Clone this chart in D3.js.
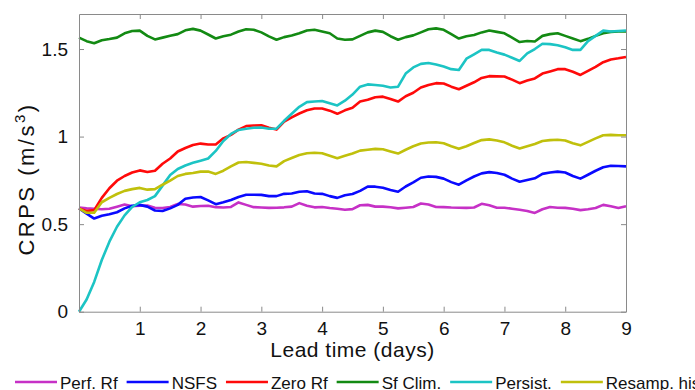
<!DOCTYPE html>
<html>
<head>
<meta charset="utf-8">
<script src="https://cdn.jsdelivr.net/npm/d3@7"></script>
<style>
  body { margin: 0; background: #fff; }
  svg { font-family: "Liberation Sans", Arial, sans-serif; }
</style>
</head>
<body>
<svg id="chart" width="695" height="390"></svg>
<script>
// lead time grid (days), one sample every 3 hours
var leadTime = d3.range(0, 9.0001, 0.125);

var perfRf = [0.595,0.590,0.588,0.585,0.588,0.600,0.612,0.602,
  0.605,0.606,0.594,0.592,0.598,0.615,0.612,0.600,
  0.604,0.605,0.597,0.595,0.598,0.624,0.610,0.597,
  0.595,0.593,0.594,0.596,0.600,0.620,0.605,0.596,
  0.598,0.592,0.588,0.582,0.586,0.608,0.610,0.600,
  0.600,0.596,0.590,0.594,0.598,0.618,0.612,0.598,
  0.597,0.595,0.594,0.593,0.595,0.616,0.608,0.594,
  0.594,0.588,0.582,0.575,0.564,0.585,0.598,0.594,
  0.593,0.588,0.580,0.585,0.592,0.610,0.602,0.592,
  0.602];
var nsfs = [0.590,0.560,0.532,0.548,0.557,0.568,0.590,0.605,
  0.610,0.600,0.578,0.575,0.590,0.610,0.645,0.652,
  0.655,0.636,0.614,0.625,0.638,0.655,0.668,0.668,
  0.667,0.660,0.660,0.673,0.675,0.685,0.688,0.675,
  0.673,0.660,0.650,0.665,0.672,0.690,0.714,0.714,
  0.708,0.695,0.685,0.715,0.738,0.765,0.772,0.770,
  0.760,0.740,0.725,0.750,0.772,0.790,0.797,0.792,
  0.782,0.760,0.742,0.752,0.762,0.787,0.795,0.800,
  0.795,0.775,0.760,0.782,0.805,0.825,0.833,0.832,
  0.830];
var zeroRf = [0.590,0.575,0.580,0.650,0.705,0.748,0.775,0.795,
  0.807,0.798,0.805,0.845,0.875,0.915,0.935,0.952,
  0.960,0.955,0.955,0.990,1.010,1.040,1.060,1.063,
  1.065,1.050,1.040,1.085,1.110,1.132,1.150,1.160,
  1.160,1.148,1.130,1.150,1.165,1.200,1.210,1.225,
  1.228,1.215,1.200,1.230,1.250,1.280,1.295,1.305,
  1.303,1.285,1.270,1.290,1.310,1.335,1.345,1.344,
  1.343,1.325,1.305,1.320,1.332,1.360,1.372,1.385,
  1.385,1.370,1.352,1.375,1.398,1.425,1.440,1.447,
  1.455];
var sfClim = [1.565,1.545,1.533,1.550,1.557,1.565,1.590,1.603,
  1.605,1.575,1.555,1.565,1.576,1.585,1.607,1.615,
  1.605,1.583,1.560,1.573,1.582,1.600,1.613,1.610,
  1.595,1.572,1.553,1.568,1.577,1.590,1.606,1.610,
  1.600,1.590,1.560,1.553,1.555,1.575,1.595,1.605,
  1.598,1.573,1.553,1.568,1.578,1.595,1.613,1.618,
  1.610,1.585,1.560,1.573,1.580,1.595,1.606,1.598,
  1.590,1.565,1.540,1.546,1.543,1.575,1.585,1.590,
  1.575,1.560,1.545,1.558,1.575,1.590,1.598,1.600,
  1.600];
var persist = [0.000,0.070,0.170,0.295,0.400,0.485,0.550,0.598,
  0.625,0.638,0.660,0.720,0.780,0.815,0.835,0.850,
  0.862,0.875,0.918,0.975,1.015,1.038,1.045,1.050,
  1.052,1.045,1.045,1.090,1.130,1.170,1.197,1.200,
  1.203,1.190,1.178,1.205,1.240,1.285,1.298,1.295,
  1.290,1.280,1.285,1.360,1.395,1.415,1.420,1.412,
  1.400,1.385,1.380,1.445,1.470,1.495,1.495,1.480,
  1.468,1.450,1.432,1.475,1.500,1.530,1.528,1.522,
  1.510,1.495,1.495,1.545,1.575,1.605,1.600,1.603,
  1.606];
var resampHist = [0.590,0.565,0.565,0.625,0.650,0.672,0.690,0.700,
  0.707,0.697,0.700,0.725,0.748,0.775,0.787,0.792,
  0.800,0.800,0.787,0.805,0.830,0.852,0.855,0.850,
  0.845,0.835,0.830,0.860,0.878,0.895,0.905,0.908,
  0.905,0.890,0.876,0.890,0.903,0.920,0.925,0.930,
  0.928,0.915,0.903,0.925,0.945,0.960,0.966,0.968,
  0.962,0.945,0.930,0.945,0.963,0.980,0.984,0.978,
  0.967,0.948,0.932,0.945,0.958,0.975,0.980,0.982,
  0.978,0.962,0.950,0.970,0.990,1.008,1.010,1.008,
  1.008];

var seriesNames = ["Perf. Rf", "NSFS", "Zero Rf", "Sf Clim.", "Persist.", "Resamp. hist"];
var seriesValues = [perfRf, nsfs, zeroRf, sfClim, persist, resampHist];
var seriesColors = ["#c631c6", "#0a0aff", "#ff0a0a", "#138a13", "#1cc4c4", "#c0c00c"];

var xTicks = [1, 2, 3, 4, 5, 6, 7, 8, 9];
var yTicks = [0, 0.5, 1, 1.5];

var svg = d3.select("#chart");
var plotLeft = 79, plotRight = 626, plotTop = 14, plotBottom = 311.7;

var x = d3.scaleLinear().domain([0, 9]).range([plotLeft, plotRight]);
var y = d3.scaleLinear().domain([0, 1.7]).range([plotBottom, plotTop]);

var axisColor = "#8a8a8a";

// lines first, the box goes on top
var line = d3.line()
    .x(function(d, i) { return x(leadTime[i]) })
    .y(function(d) { return y(d) });

svg.selectAll("path.series")
    .data(seriesValues)
    .enter()
    .append("path")
    .attr("class", "series")
    .attr("d", line)
    .attr("fill", "none")
    .attr("stroke", function(d, i) { return seriesColors[i] })
    .attr("stroke-width", 2.6)
    .attr("stroke-linejoin", "round");

// axes: ticks inside on all four sides, like the matlab box
function styleAxis(g) {
    g.select(".domain").attr("stroke", axisColor);
    g.selectAll(".tick line").attr("stroke", axisColor);
    g.selectAll(".tick text").attr("fill", "#111").attr("font-size", 19);
}

svg.append("g")
    .attr("transform", "translate(0," + plotBottom + ")")
    .call(d3.axisBottom(x).tickValues(xTicks).tickSizeInner(-5).tickSizeOuter(0).tickPadding(10).tickFormat(d3.format("d")))
    .call(styleAxis);

svg.append("g")
    .attr("transform", "translate(0," + plotTop + ")")
    .call(d3.axisTop(x).tickValues(xTicks).tickSizeInner(-5).tickSizeOuter(0).tickFormat(""))
    .call(styleAxis);

svg.append("g")
    .attr("transform", "translate(" + plotLeft + ",0)")
    .call(d3.axisLeft(y).tickValues(yTicks).tickSizeInner(-5).tickSizeOuter(0).tickPadding(11).tickFormat(function(d) { return d }))
    .call(styleAxis);

svg.append("g")
    .attr("transform", "translate(" + plotRight + ",0)")
    .call(d3.axisRight(y).tickValues(yTicks).tickSizeInner(-5).tickSizeOuter(0).tickFormat(""))
    .call(styleAxis);

// axis labels
svg.append("text")
    .attr("x", (plotLeft + plotRight) / 2)
    .attr("y", 357)
    .attr("text-anchor", "middle")
    .attr("font-size", 21)
    .attr("letter-spacing", 0.5)
    .attr("fill", "#111")
    .text("Lead time (days)");

var ylab = svg.append("text")
    .attr("transform", "translate(34,179) rotate(-90)")
    .attr("text-anchor", "middle")
    .attr("font-size", 22)
    .attr("letter-spacing", 2.5)
    .attr("fill", "#111");
ylab.append("tspan").text("CRPS (m/s");
ylab.append("tspan").attr("font-size", 15).attr("dy", -9).text("3");
ylab.append("tspan").attr("dy", 9).text(")");

// legend along the bottom, flows off the right edge
var legendX = 15;
var legendY = 382;
seriesNames.forEach(function(name, i) {
    svg.append("line")
        .attr("x1", legendX).attr("x2", legendX + 42)
        .attr("y1", legendY).attr("y2", legendY)
        .attr("stroke", seriesColors[i])
        .attr("stroke-width", 2.6);
    var t = svg.append("text")
        .attr("x", legendX + 45)
        .attr("y", legendY + 7)
        .attr("font-size", 17)
        .attr("fill", "#111")
        .text(name);
    legendX += 45 + t.node().getComputedTextLength() + 9;
});
</script>
</body>
</html>
